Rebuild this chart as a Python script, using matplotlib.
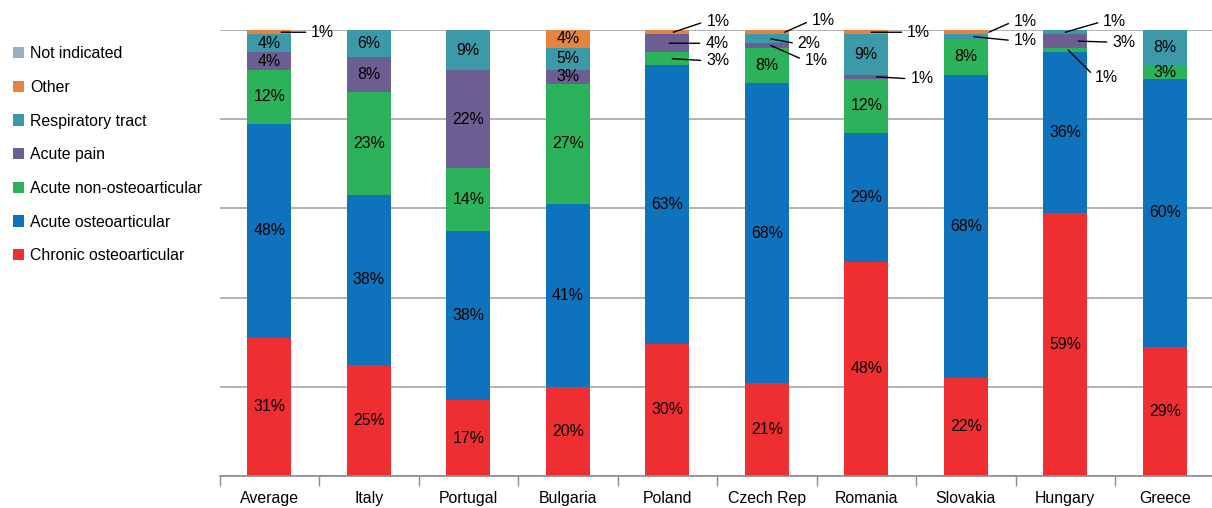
import numpy as np
import matplotlib
matplotlib.use("Agg")
import matplotlib.pyplot as plt
from matplotlib.patches import Patch

plt.rcParams["font.family"] = ["Liberation Sans", "DejaVu Sans"]

categories = ["Average", "Italy", "Portugal", "Bulgaria", "Poland",
              "Czech Rep", "Romania", "Slovakia", "Hungary", "Greece"]
series_names = ["Chronic osteoarticular", "Acute osteoarticular", "Acute non-osteoarticular",
                "Acute pain", "Respiratory tract", "Other", "Not indicated"]
chronic = [31, 25, 17, 20, 30, 21, 48, 22, 59, 29]
acute_osteo = [48, 38, 38, 41, 63, 68, 29, 68, 36, 60]
acute_non = [12, 23, 14, 27, 3, 8, 12, 8, 1, 3]
acute_pain = [4, 8, 22, 3, 4, 1, 1, 0, 3, 0]
respiratory = [4, 6, 9, 5, 0, 2, 9, 1, 1, 8]
other = [1, 0, 0, 4, 1, 1, 1, 1, 0, 0]
not_indicated = [0, 0, 0, 0, 0, 0, 0, 0, 0, 0]

colors = ["#EE2E31", "#0E72BC", "#2CB25B", "#6C5E92", "#3B99A8", "#E4843F", "#97B0C1"]

# small segments labelled outside the bar:
# (category, series, line start dx from bar centre px, text dx px, text dy px)
callouts = [
    (0, 5, 12, 30, 0),
    (4, 5, 6, 33, 11), (4, 3, 2, 36, 0), (4, 2, 5, 34, -2),
    (5, 5, 18, 27, 12), (5, 4, 4, 27, -5), (5, 3, 4, 34, -15),
    (6, 5, 5, 36, 0), (6, 3, 10, 34, -2),
    (7, 5, 23, 25, 11), (7, 4, 8, 40, -4),
    (8, 4, 0, 38, 11), (8, 3, 13, 34, -1), (8, 2, 3, 27, -27),
]

FS = 11.4

data = np.array([chronic, acute_osteo, acute_non, acute_pain, respiratory, other, not_indicated], float)
shares = data / data.sum(axis=0) * 100
bottoms = np.vstack([np.zeros(len(categories)), np.cumsum(shares, axis=0)[:-1]])
x = np.arange(len(categories))

fig = plt.figure(figsize=(12.12, 5.08), dpi=100)
ax = fig.add_axes([219.5 / 1212, 32 / 508, 995 / 1212, 446 / 508])

bw = 0.44
for k in range(len(series_names)):
    ax.bar(x, shares[k], bottom=bottoms[k], width=bw, color=colors[k], linewidth=0, zorder=2)

small = {(c, s) for c, s, *_ in callouts}
for k in range(len(series_names)):
    for i in x:
        v = data[k, i]
        if v <= 0 or (i, k) in small:
            continue
        ax.text(i, bottoms[k, i] + shares[k, i] / 2, f"{int(v)}%", ha="center", va="center",
                fontsize=FS, color="black", zorder=3)

px = 995 / len(categories)  # pixels per category
for c, s, dx0, tdx, tdy in callouts:
    xy = (c + dx0 / px, bottoms[s, c] + shares[s, c] / 2)
    ax.annotate(f"{int(data[s, c])}%", xy=xy, xytext=(tdx, tdy), textcoords="offset pixels",
                ha="left", va="center", fontsize=FS, annotation_clip=False,
                arrowprops=dict(arrowstyle="-", color="black", lw=1, shrinkA=2, shrinkB=0,
                                relpos=(0, 0.5)), zorder=4)

ax.set_xlim(-0.5, len(categories) - 0.5)
ax.set_ylim(0, 100)
ax.set_yticks([0, 20, 40, 60, 80, 100])
ax.yaxis.grid(True, color="#A6A6A6", lw=1.2, zorder=0)
ax.tick_params(axis="y", length=0, labelleft=False)
ax.set_xticks(np.arange(-0.5, len(categories), 1))
ax.set_xticklabels([])
ax.set_xticks(x, minor=True)
ax.set_xticklabels(categories, minor=True, fontsize=FS)
ax.tick_params(axis="x", which="major", length=7, color="#8C8C8C", width=1)
ax.tick_params(axis="x", which="minor", length=0, pad=11)
for sp in ["left", "right", "top"]:
    ax.spines[sp].set_visible(False)
ax.spines["bottom"].set_color("#8C8C8C")
ax.spines["bottom"].set_linewidth(1.2)
ax.set_axisbelow(True)

handles = [Patch(facecolor=colors[k], edgecolor="none") for k in range(len(series_names))][::-1]
fig.legend(handles, series_names[::-1], loc="upper left", bbox_to_anchor=(-0.001, 0.937),
           frameon=False, fontsize=FS, handlelength=0.72, handleheight=0.72,
           handletextpad=0.38, labelspacing=1.18)

fig.savefig("out.png", dpi=100)
